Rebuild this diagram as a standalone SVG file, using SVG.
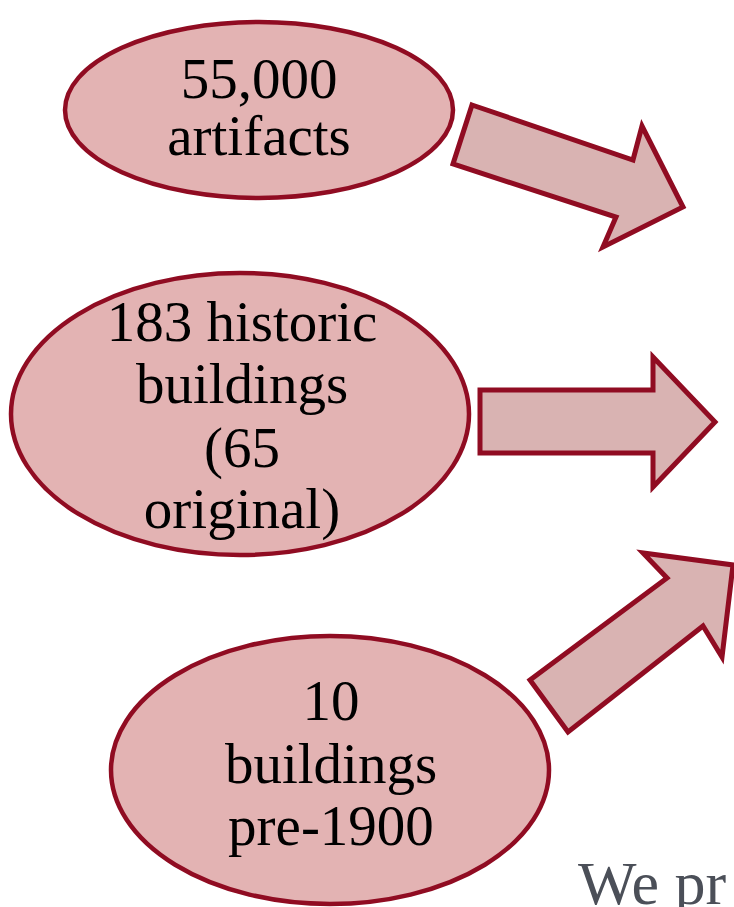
<svg xmlns="http://www.w3.org/2000/svg" width="734" height="907" viewBox="0 0 734 907">
<style>
.node ellipse{fill:#E3B3B3;stroke:#900C22;stroke-width:4.5}
.arrow{fill:#D9B3B2;stroke:#900C22;stroke-width:5;stroke-linejoin:miter}
.lbl{font-family:"Liberation Serif","DejaVu Serif",serif;font-size:57px;fill:#000;text-anchor:middle}
.bg{font-family:"Liberation Serif","DejaVu Serif",serif;font-size:62px;fill:#4B4F58}
</style>
<rect width="734" height="907" fill="#FFFFFF"/>
<g id="node1" class="node">
<ellipse cx="259" cy="110" rx="194" ry="88"/>
<text class="lbl" x="259" y="98">55,000</text>
<text class="lbl" x="259" y="155">artifacts</text>
</g>
<g id="node2" class="node">
<ellipse cx="240" cy="414" rx="229" ry="141"/>
<text class="lbl" x="242" y="341">183 historic</text>
<text class="lbl" x="242" y="403">buildings</text>
<text class="lbl" x="242" y="467">(65</text>
<text class="lbl" x="242" y="528">original)</text>
</g>
<g id="node3" class="node">
<ellipse cx="330" cy="770" rx="219" ry="134"/>
<text class="lbl" x="331" y="720">10</text>
<text class="lbl" x="331" y="783">buildings</text>
<text class="lbl" x="331" y="845">pre-1900</text>
</g>
<g id="connectors">
<polygon class="arrow" points="472,105 633,160 642,126 683,207 603,247 616,217 453,164"/>
<polygon class="arrow" points="480,390 653,390 653,357 715,422 653,487 653,453 480,453"/>
<polygon class="arrow" points="530,680 667,578 643,553 733,565 722,657 703,626 568,732"/>
</g>
<text class="bg" x="578" y="904">We pr</text>
</svg>
